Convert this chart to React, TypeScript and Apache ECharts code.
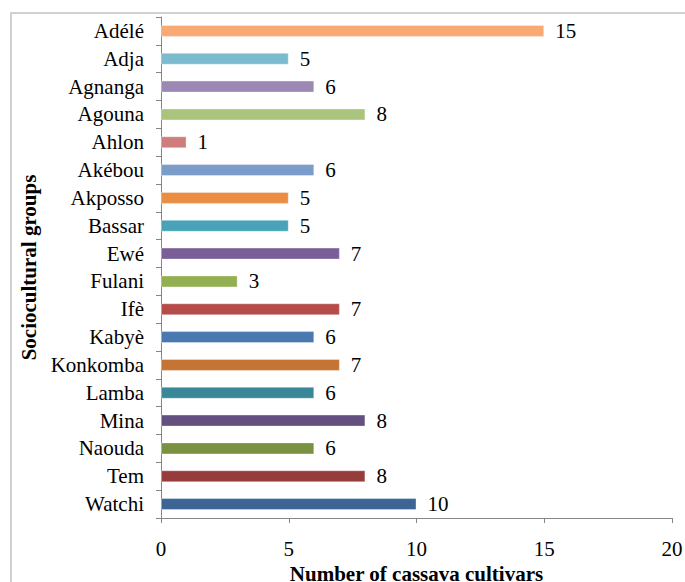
import React, { useEffect, useRef } from "react";
import * as echarts from "echarts";

// Sociocultural groups, listed top to bottom
const groups = [
  "Adélé", "Adja", "Agnanga", "Agouna", "Ahlon", "Akébou", "Akposso", "Bassar", "Ewé",
  "Fulani", "Ifè", "Kabyè", "Konkomba", "Lamba", "Mina", "Naouda", "Tem", "Watchi",
];

// Number of cassava cultivars per group
const cultivars = [15, 5, 6, 8, 1, 6, 5, 5, 7, 3, 7, 6, 7, 6, 8, 6, 8, 10];

const xTicks = { min: 0, max: 20, interval: 5 };

const barColors = [
  "#F9A974", "#7CBAD0", "#9B88B5", "#AAC47E", "#CF7C7C", "#7B9CC9", "#E98E43", "#4AA2B9", "#7A5E98",
  "#92AF52", "#B54C4A", "#4A78B0", "#C47435", "#3A8799", "#634F80", "#7A9142", "#963C3B", "#3C6494",
];

const serif = "Times New Roman, Liberation Serif, DejaVu Serif, serif";
const fontSize = 21;

export default function App() {
  const ref = useRef<HTMLDivElement>(null);

  useEffect(() => {
    if (!ref.current) return;
    const chart = echarts.init(ref.current, null, { renderer: "svg" });
    chart.setOption({
      animation: false,
      backgroundColor: "#ffffff",
      textStyle: { fontFamily: serif },
      graphic: [
        {
          type: "rect",
          shape: { x: 11, y: 13, width: 700, height: 600 },
          style: { fill: "none", stroke: "#D0D0D0", lineWidth: 2 },
          silent: true,
        },
      ],
      grid: {
        left: 161,
        right: 13,
        top: 17,
        bottom: 64,
        containLabel: false,
        outerBoundsMode: "none",
      },
      xAxis: {
        type: "value",
        min: xTicks.min,
        max: xTicks.max,
        interval: xTicks.interval,
        name: "Number of cassava cultivars",
        nameLocation: "middle",
        nameGap: 41,
        nameTextStyle: { fontFamily: serif, fontSize, fontWeight: "bold", color: "#000" },
        axisLine: { show: true, lineStyle: { color: "#868686", width: 1 } },
        axisTick: { show: true, length: 5, lineStyle: { color: "#868686" } },
        axisLabel: { fontFamily: serif, fontSize, color: "#000", margin: 20 },
        splitLine: { show: false },
      },
      yAxis: {
        type: "category",
        data: groups,
        inverse: true,
        name: "Sociocultural groups",
        nameLocation: "middle",
        nameGap: 120,
        nameRotate: 90,
        nameTextStyle: { fontFamily: serif, fontSize, fontWeight: "bold", color: "#000" },
        axisLine: { show: true, lineStyle: { color: "#868686", width: 1 } },
        axisTick: { show: true, length: 5, alignWithLabel: false, lineStyle: { color: "#868686" } },
        axisLabel: { fontFamily: serif, fontSize, color: "#000", margin: 17 },
      },
      series: [
        {
          type: "bar",
          barWidth: 12,
          data: cultivars.map((v, i) => ({
            value: v,
            itemStyle: { color: barColors[i], borderColor: "rgba(255,255,255,0.35)", borderWidth: 1 },
          })),
          label: {
            show: true,
            position: "right",
            distance: 11,
            fontFamily: serif,
            fontSize,
            color: "#000",
          },
        },
      ],
    });
    return () => chart.dispose();
  }, []);

  return (
    <div
      ref={ref}
      style={{ position: "absolute", left: 0, top: 0, width: 685, height: 582 }}
    />
  );
}
